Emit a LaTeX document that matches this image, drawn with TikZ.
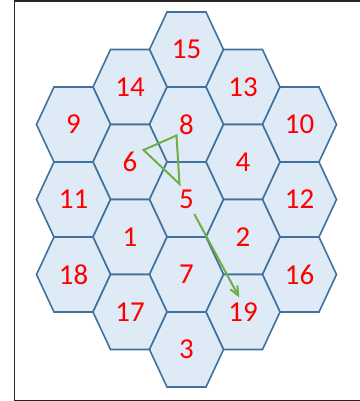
\documentclass[tikz,border=0pt]{standalone}
\usepackage{fontspec}
\setmainfont{Carlito}
\usetikzlibrary{arrows.meta}

\definecolor{cellline}{RGB}{65,113,156}
\definecolor{cellfill}{RGB}{222,235,247}
\definecolor{pathgreen}{RGB}{112,173,71}

\begin{document}
\begin{tikzpicture}[
  x=1bp,y=-1bp,
  cell/.style={draw=cellline,fill=cellfill,line width=1.6bp,line join=miter},
  num/.style={text=red,font=\fontsize{29}{29}\selectfont,inner sep=0pt},
  route/.style={draw=pathgreen,line width=2bp}
]
  \useasboundingbox (0,0) rectangle (360,401);
  % frame (open on the right)
  \draw[line width=1.4bp,black!85] (362,0.8) -- (14.5,0.8) -- (14.5,400.2) -- (362,400.2);
  % cells: column/row/label
  \foreach \c/\r/\n in {2/0/15,1/1/14,3/1/13,0/2/9,2/2/8,4/2/10,1/3/6,3/3/4,
                        0/4/11,2/4/5,4/4/12,1/5/1,3/5/2,0/6/18,2/6/7,4/6/16,
                        1/7/17,3/7/19,2/8/3} {
    \pgfmathsetmacro\cx{73.5+56.5*\c}
    \pgfmathsetmacro\cy{49.5+37.5*\r}
    \draw[cell] (\cx-37,\cy) -- (\cx-19.5,\cy-37.5) -- (\cx+19.5,\cy-37.5)
      -- (\cx+37,\cy) -- (\cx+19.5,\cy+37.5) -- (\cx-19.5,\cy+37.5) -- cycle;
    \node[num] (c\n) at (\cx,\cy) {\n};
  }
  % green route
  \coordinate (t1) at (143.5,150);
  \coordinate (t2) at (176.5,135.5);
  \coordinate (t3) at (179.5,184);
  \draw[route,line join=miter] (t1) -- (t2) -- (t3) -- cycle;
  \coordinate (a1) at (194.3,214);
  \coordinate (a2) at (239.3,297.5);
  \draw[route,-{Straight Barb[length=9bp,width=8bp]}] (a1) -- (a2);
\end{tikzpicture}
\end{document}
